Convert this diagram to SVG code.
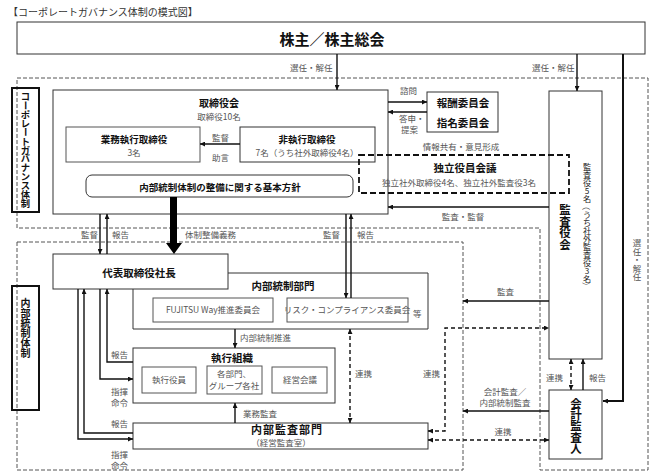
<svg xmlns="http://www.w3.org/2000/svg" width="650" height="476" viewBox="0 0 650 476">
<defs>
<marker id="ah" viewBox="0 0 6 6" refX="6" refY="3" markerWidth="6" markerHeight="5" markerUnits="userSpaceOnUse" orient="auto-start-reverse"><path d="M0,0 L6,3 L0,6 z" fill="#111"/></marker>
</defs>
<style>
text{font-family:"Noto Sans CJK JP","Noto Sans CJK SC",sans-serif;fill:#222}
.b{font-weight:bold;fill:#111}
.s{font-size:8.5px;fill:#555}
.l{font-size:8.5px;fill:#555}
.box{fill:none;stroke:#333;stroke-width:1}
.sub{fill:none;stroke:#555;stroke-width:1}
.thick{fill:none;stroke:#111;stroke-width:2}
.region{fill:none;stroke:#555;stroke-width:1;stroke-dasharray:4,2}
.c{fill:none;stroke:#111;stroke-width:1.4}
.cd{fill:none;stroke:#111;stroke-width:1.4;stroke-dasharray:4,3}
.m{text-anchor:middle}
.vc{text-anchor:middle;dominant-baseline:central}
</style>

<text x="8" y="16" style="font-size:10px;fill:#333">【コーポレートガバナンス体制の模式図】</text>

<g id="regions">
<path class="region" d="M17,78 H648 V470 H540 V228 H17 Z"/>
<rect class="region" x="17" y="242" width="446" height="228"/>
</g>

<g id="shareholders">
<rect class="box" x="17" y="22" width="628" height="32"/>
<text class="b m" x="332" y="45" style="font-size:15px">株主／株主総会</text>
</g>

<g id="label-cg" class="b" style="font-size:9.3px">
<rect class="thick" x="12" y="88" width="27" height="124"/>
<text class="b vc" x="25.5" y="96.4">コ</text>
<text class="b vc" x="25.5" y="105.3" transform="rotate(90 25.5 105.3)">ー</text>
<text class="b vc" x="25.5 25.5 25.5" y="114.1 123 0">ポレ</text>
<text class="b vc" x="25.5" y="131.8" transform="rotate(90 25.5 131.8)">ー</text>
<text class="b vc" x="25.5 25.5 25.5 25.5 25.5 25.5 25.5 25.5" y="140.7 149.5 158.4 167.2 176.1 184.9 193.8 202.6">トガバナンス体制</text>
</g>

<g id="label-ic" style="font-size:10px">
<rect class="thick" x="12" y="286" width="27" height="124"/>
<text class="b vc" x="25.5 25.5 25.5 25.5 25.5 25.5" y="302 312 322 332 342 352">内部統制体制</text>
</g>

<g id="board">
<rect class="box" x="53" y="90" width="335" height="124"/>
<text class="b m" x="219" y="107" style="font-size:10px">取締役会</text>
<text class="s m" x="219" y="120">取締役10名</text>
</g>

<g id="exec-directors">
<rect class="sub" x="66" y="127" width="134" height="35"/>
<text class="b m" x="134" y="143" style="font-size:9.5px">業務執行取締役</text>
<text class="s m" x="134" y="156">3名</text>
</g>

<g id="nonexec-directors">
<rect class="box" x="240" y="127" width="135" height="35"/>
<text class="b m" x="307" y="143" style="font-size:9.5px">非執行取締役</text>
<text class="s m" x="307" y="156">7名（うち社外取締役4名）</text>
</g>

<g id="policy">
<rect class="box" x="86" y="175" width="267" height="22" rx="6"/>
<text class="b m" x="220" y="191" style="font-size:9.5px">内部統制体制の整備に関する基本方針</text>
</g>

<g id="committees">
<rect class="box" x="427" y="92" width="71" height="40"/>
<text class="b m" x="463" y="107" style="font-size:10.5px">報酬委員会</text>
<text class="b m" x="463" y="127" style="font-size:10.5px">指名委員会</text>
</g>

<g id="auditors-board">
<rect class="box" x="549" y="91" width="53" height="268"/>
<text class="b vc" x="565 565 565 565" y="209 220.5 232 243.5" style="font-size:11.5px">監査役会</text>
<g style="font-size:8.2px">
<text class="vc" x="587 587 587 587 587" y="166 174 182 190 198">監査役5名</text>
<text class="vc" x="587" y="206" transform="rotate(90 587 206)">（</text>
<text class="vc" x="587 587 587 587 587 587 587 587 587" y="214 222 230 238 246 254 262 270 278">うち社外監査役3名</text>
<text class="vc" x="587" y="286" transform="rotate(90 587 286)">）</text>
</g>
</g>

<g id="independent">
<rect x="359" y="155" width="210" height="38" style="fill:none;stroke:#111;stroke-width:1.8;stroke-dasharray:6,3"/>
<text class="b m" x="465" y="172" style="font-size:10.5px">独立役員会議</text>
<text class="s m" x="459" y="186">独立社外取締役4名、独立社外監査役3名</text>
</g>

<g id="internal-control-dept">
<path class="box" d="M228,273 H428 V329 H133 V289"/>
<text class="b m" x="283" y="290" style="font-size:10.5px">内部統制部門</text>
<rect class="sub" x="153" y="298" width="120" height="24"/>
<text class="s m" x="213" y="313">FUJITSU Way推進委員会</text>
<rect class="sub" x="287" y="298" width="121" height="24"/>
<text class="s m" x="347" y="313">リスク・コンプライアンス委員会</text>
<text class="s" x="413" y="317">等</text>
</g>

<g id="president">
<rect x="53" y="254" width="175" height="35" style="fill:#fff;stroke:#333;stroke-width:1"/>
<text class="b m" x="139" y="277" style="font-size:10.5px">代表取締役社長</text>
</g>

<g id="exec-org">
<rect class="box" x="133" y="348" width="202" height="55"/>
<text class="b m" x="232" y="362" style="font-size:10.5px">執行組織</text>
<rect class="sub" x="142" y="367" width="54" height="26"/>
<text class="s m" x="169" y="383">執行役員</text>
<rect class="sub" x="207" y="366" width="55" height="28"/>
<text class="s m" x="234" y="377">各部門、</text>
<text class="s m" x="234" y="389">グループ各社</text>
<rect class="sub" x="272" y="367" width="55" height="26"/>
<text class="s m" x="300" y="383">経営会議</text>
</g>

<g id="internal-audit">
<rect class="box" x="133" y="423" width="295" height="26"/>
<text class="b m" x="287" y="434" style="font-size:11px;letter-spacing:1px">内部監査部門</text>
<text class="s m" x="281" y="446">（経営監査室）</text>
</g>

<g id="accounting-auditor">
<rect class="box" x="549" y="390" width="53" height="69"/>
<text class="b vc" x="576 576 576 576 576" y="403 414.2 425.4 436.6 447.8" style="font-size:11.5px">会計監査人</text>
</g>

<g id="connectors">
<path class="c" d="M337,54 V90" marker-end="url(#ah)"/>
<path class="c" d="M577,54 V91" marker-end="url(#ah)"/>
<path class="c" style="stroke-width:2" d="M623,54 V401 H603" marker-end="url(#ah)"/>
<path class="c" d="M388,102 H427" marker-end="url(#ah)"/>
<path class="c" d="M427,112 H388" marker-end="url(#ah)"/>
<path class="c" d="M240,144 H200" marker-end="url(#ah)"/>
<path class="c" d="M549,207 H388" marker-end="url(#ah)"/>
<path class="c" d="M100,214 V254" marker-end="url(#ah)"/>
<path class="c" d="M107,254 V214" marker-end="url(#ah)"/>
<path class="c" d="M346,214 V298" marker-end="url(#ah)"/>
<path class="c" d="M351,298 V214" marker-end="url(#ah)"/>
<polygon points="170,197 177,197 177,243 182,243 174,254 166,243 170,243" fill="#000"/>
<path class="c" d="M235,329 V348" marker-end="url(#ah)"/>
<path class="c" d="M235,423 V403" marker-end="url(#ah)"/>
<path class="c" d="M133,362 H107 V289" marker-end="url(#ah)"/>
<path class="c" d="M100,289 V379 H133" marker-end="url(#ah)"/>
<path class="c" d="M133,433 H84 V289" marker-end="url(#ah)"/>
<path class="c" d="M78,289 V439 H133" marker-end="url(#ah)"/>
<path class="cd" d="M350,329 V423" marker-start="url(#ah)" marker-end="url(#ah)"/>
<path class="cd" d="M428,431 H445 V328 H549" marker-start="url(#ah)" marker-end="url(#ah)"/>
<path class="c" d="M549,301 H463" marker-end="url(#ah)"/>
<path class="c" d="M549,411 H463" marker-end="url(#ah)"/>
<path class="cd" d="M428,440 H549" marker-start="url(#ah)" marker-end="url(#ah)"/>
<path class="cd" d="M571,359 V390" marker-start="url(#ah)" marker-end="url(#ah)"/>
<path class="c" d="M583,390 V359" marker-end="url(#ah)"/>
</g>

<g id="labels">
<text class="l" x="290" y="71">選任・解任</text>
<text class="l" x="532" y="71">選任・解任</text>
<text class="l vc" x="637 637 637 637 637" y="242.3 250.8 259.3 267.8 276.3">選任・解任</text>
<text class="l" x="400" y="94">諮問</text>
<text class="l" x="399" y="122">答申・</text>
<text class="l" x="401" y="133">提案</text>
<text class="l" x="212" y="141">監督</text>
<text class="l" x="212" y="161">助言</text>
<text class="l m" x="461" y="150">情報共有・意見形成</text>
<text class="l m" x="463" y="220">監査・監督</text>
<text class="l" x="81" y="238">監督</text>
<text class="l" x="112" y="238">報告</text>
<text class="l" x="185" y="238">体制整備義務</text>
<text class="l" x="323" y="238">監督</text>
<text class="l" x="357" y="238">報告</text>
<text class="l" x="240" y="341">内部統制推進</text>
<text class="l" x="243" y="417">業務監査</text>
<text class="l" x="111" y="358">報告</text>
<text class="l" x="111" y="395">指揮</text>
<text class="l" x="111" y="406">命令</text>
<text class="l" x="111" y="427">報告</text>
<text class="l" x="111" y="458">指揮</text>
<text class="l" x="111" y="469">命令</text>
<text class="l" x="355" y="377">連携</text>
<text class="l" x="423" y="377">連携</text>
<text class="l" x="497" y="295">監査</text>
<text class="l m" x="505" y="395">会計監査／</text>
<text class="l m" x="505" y="406">内部統制監査</text>
<text class="l m" x="503" y="435">連携</text>
<text class="l" x="546" y="381">連携</text>
<text class="l" x="589" y="381">報告</text>
</g>
</svg>
